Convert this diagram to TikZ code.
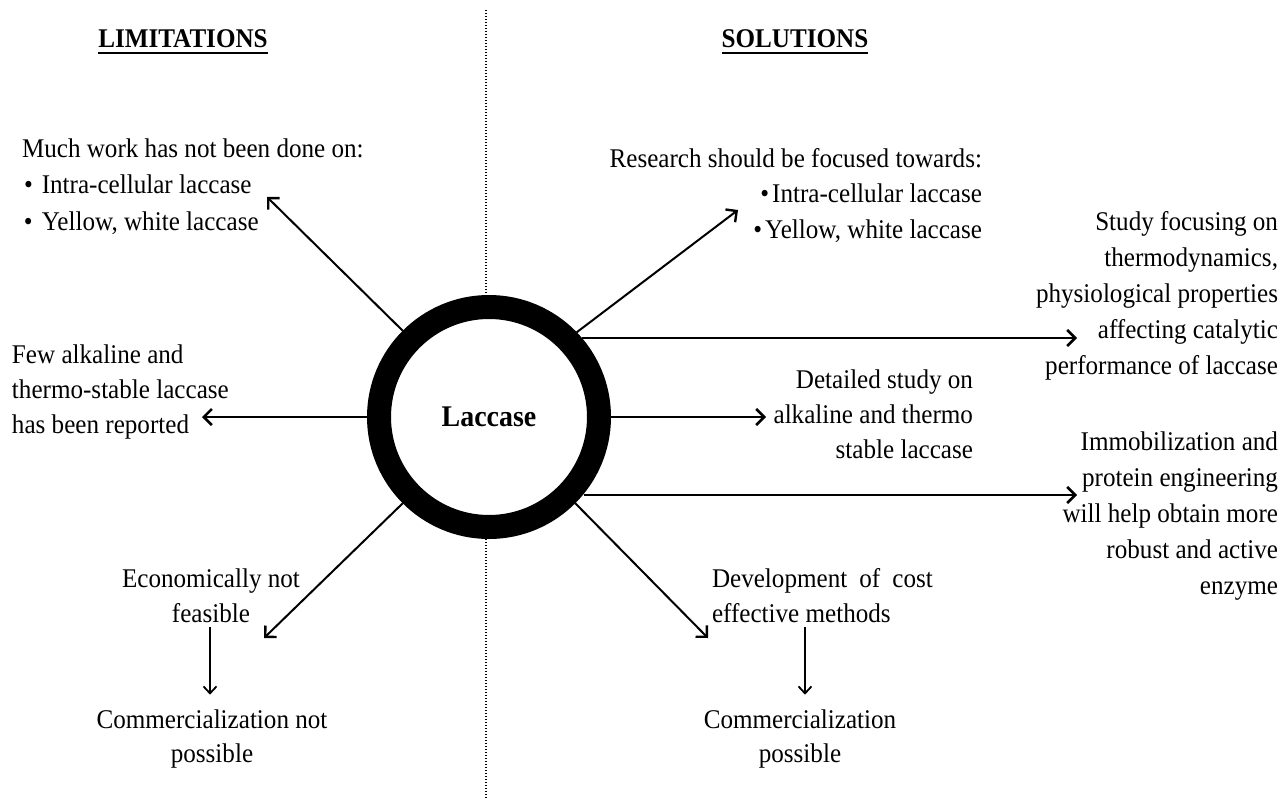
\documentclass[tikz,border=0pt]{standalone}
\usepackage{fontspec}
\setmainfont{Liberation Serif}[FakeStretch=0.93]
\usetikzlibrary{arrows.meta,calc}
\newcommand{\mlines}[2]{\begin{tabular}[t]{@{}#1@{}}#2\end{tabular}}
\begin{document}
\begin{tikzpicture}[x=1pt,y=-1pt,
  txt/.style={inner sep=0pt, outer sep=0pt, font=\fontsize{27}{#1}\selectfont},
  txt/.default=35.5,
  head/.style={inner sep=0pt, outer sep=0pt, font=\fontsize{27}{32}\selectfont\bfseries},
  bigarrow/.style={line width=2.8pt, -{Straight Barb[length=8pt,width=16pt,line width=2.6pt]}},
  diagarrow/.style={line width=2pt, -{Straight Barb[length=8pt,width=16pt,line width=2.4pt]}},
  smallarrow/.style={line width=1.5pt, -{Straight Barb[length=7pt,width=13pt,line width=1.8pt]}},
  dotline/.style={line width=1.8pt, dash pattern=on 1.4pt off 1.6pt},
  ring/.style={circle, draw, line width=24pt, minimum size=220pt, inner sep=0pt, outer sep=12pt,
    font=\fontsize{30}{36}\selectfont\bfseries}
]
\useasboundingbox (0,0) rectangle (1285,800);

% centre
\node[ring] (lac) at (489,417) {Laccase};

% headers
\node[head, anchor=base] (lim) at (183,48) {LIMITATIONS};
\node[head, anchor=base] (sol) at (795,48) {SOLUTIONS};
\draw[line width=2pt] ([yshift=-5pt]lim.base west) -- ([yshift=-5pt]lim.base east);
\draw[line width=2pt] ([yshift=-5pt]sol.base west) -- ([yshift=-5pt]sol.base east);

% dotted divider
\coordinate (dtop) at (486,10);
\coordinate (dbot) at (486,800);
\draw[dotline] (dtop) -- (dtop |- lac.north);
\draw[dotline] (dbot |- lac.south) -- (dbot);

% texts, limitations side
\node[txt=36.5, anchor=base west] (much) at (22,157)
  {\mlines{l}{Much work has not been done on:\\
   \hspace{2pt}\textbullet\hspace{9pt}Intra-cellular laccase\\
   \hspace{2pt}\textbullet\hspace{9pt}Yellow, white laccase}};
\node[txt=35, anchor=base west] (few) at (12,363)
  {\mlines{l}{Few alkaline and\\ thermo-stable laccase\\ has been reported}};
\node[txt=35, anchor=base] (econ) at (211,587)
  {\mlines{c}{Economically not\\ feasible}};
\node[txt=34, anchor=base] (commno) at (212,728)
  {\mlines{c}{Commercialization not\\ possible}};

% texts, solutions side
\node[txt=35.5, anchor=base east] (research) at (982,167)
  {\mlines{r}{Research should be focused towards:\\
   \textbullet\hspace{3pt}Intra-cellular laccase\\
   \textbullet\hspace{3pt}Yellow, white laccase}};
\node[txt=36, anchor=base east] (study) at (1278,230)
  {\mlines{r}{Study focusing on\\ thermodynamics,\\ physiological properties\\ affecting catalytic\\ performance of laccase}};
\node[txt=35, anchor=base east] (detail) at (973,388)
  {\mlines{r}{Detailed study on\\ alkaline and thermo\\ stable laccase}};
\node[txt=36, anchor=base east] (immob) at (1278,450)
  {\mlines{r}{Immobilization and\\ protein engineering\\ will help obtain more\\ robust and active\\ enzyme}};
\node[txt=35, anchor=base west] (dev) at (712,587)
  {\mlines{l}{Development\hspace{0.45em}of\hspace{0.45em}cost\\ effective methods}};
\node[txt=34, anchor=base] (commyes) at (800,728)
  {\mlines{c}{Commercialization\\ possible}};

% arrow tips
\coordinate (tUL) at (267,197);
\coordinate (tUR) at (738,210);
\coordinate (tR1) at (1077,338);
\coordinate (tR2) at (766,417);
\coordinate (tR3) at (1077,495);
\coordinate (tL)  at (202,417);
\coordinate (tLL) at (264,638);
\coordinate (tLR) at (708,638);

% arrows from centre
\draw[diagarrow] (lac.135) -- (tUL);
\draw[diagarrow] (lac.44) -- (tUR);
\draw[bigarrow] (lac.40.4 |- tR1) -- (tR1);
\draw[bigarrow] (lac.0) -- (tR2);
\draw[bigarrow] (lac.-39.7 |- tR3) -- (tR3);
\draw[bigarrow] (lac.180) -- (tL);
\draw[diagarrow] (lac.225) -- (tLL);
\draw[diagarrow] (lac.-45) -- (tLR);

% consequence arrows
\draw[smallarrow] ([xshift=-1pt,yshift=5.5pt]econ.south) -- ([xshift=-1pt,yshift=9.5pt]econ.south |- commno.north);
\draw[smallarrow] ([xshift=5pt,yshift=5.5pt]commyes.north |- dev.south) -- ([xshift=5pt,yshift=9.5pt]commyes.north);
\end{tikzpicture}
\end{document}
